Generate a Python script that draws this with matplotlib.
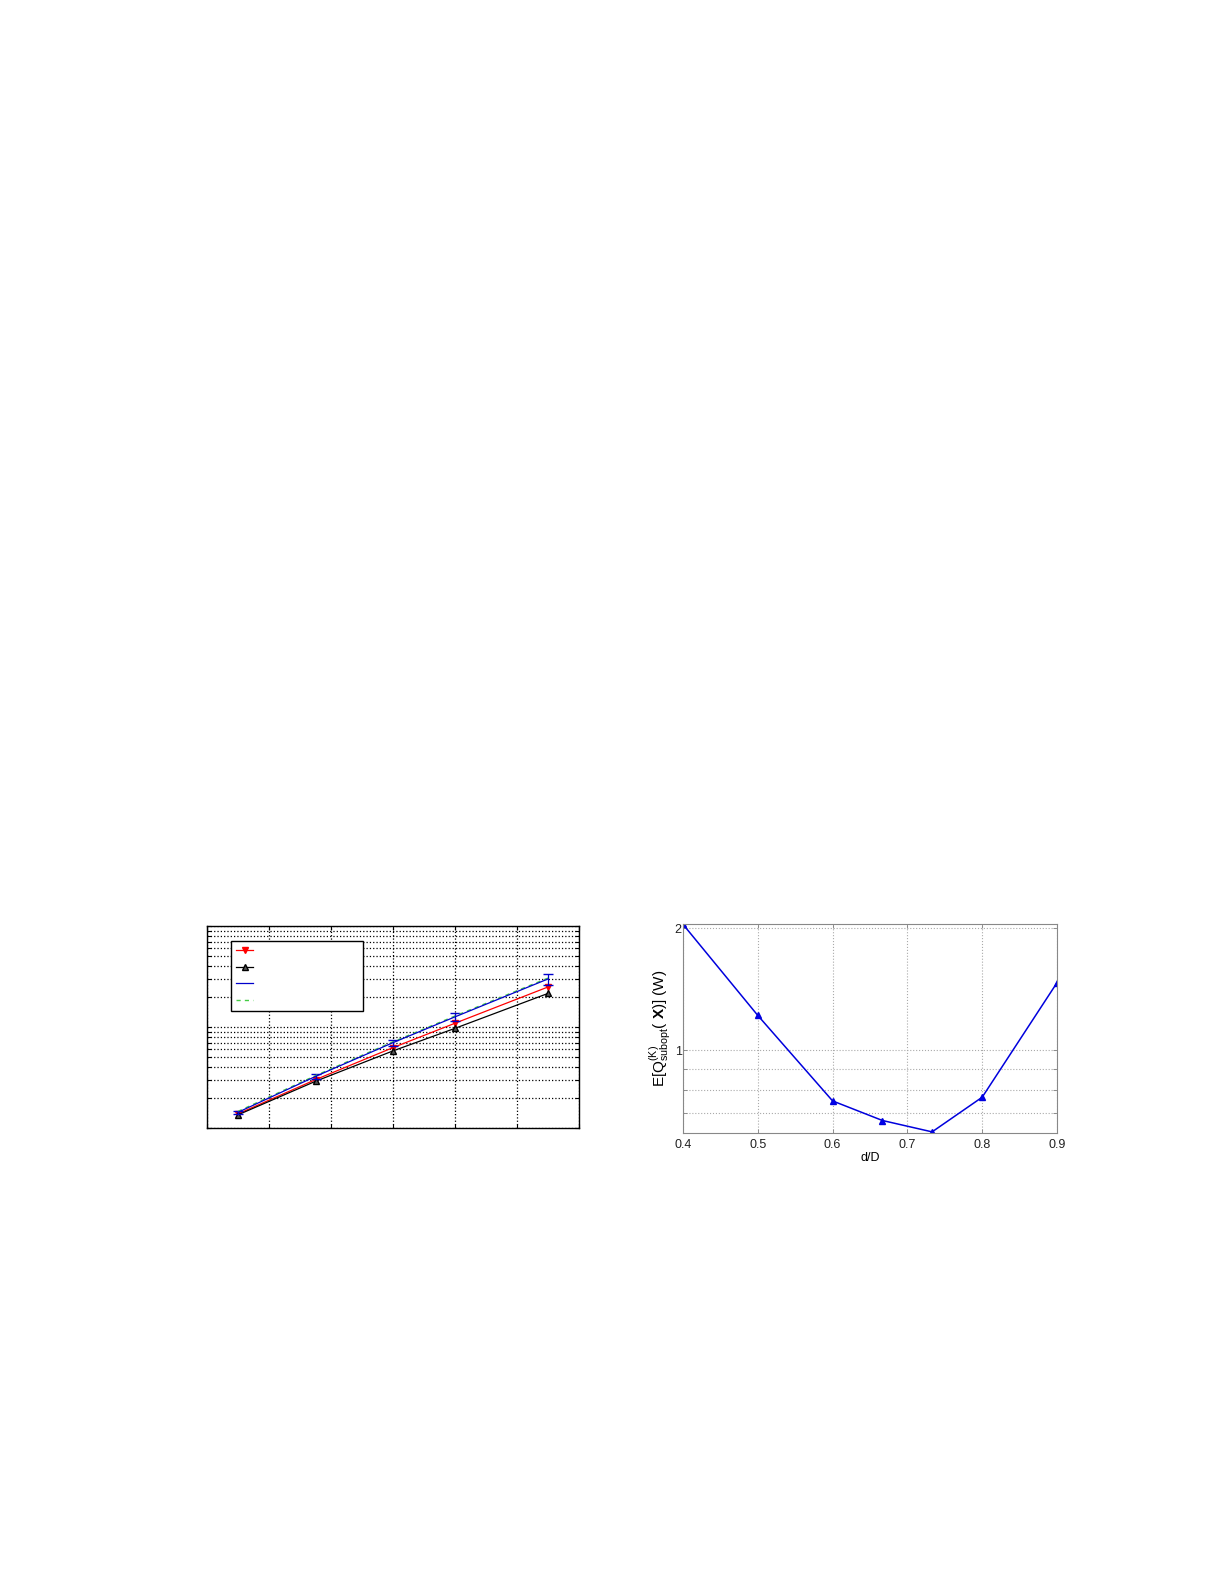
import matplotlib
matplotlib.use('Agg')
import matplotlib.pyplot as plt
from matplotlib.lines import Line2D
from matplotlib.ticker import FixedLocator, NullFormatter, FixedFormatter, LogLocator
import numpy as np

plt.rcParams['font.family'] = ['Liberation Sans', 'DejaVu Sans']
plt.rcParams['mathtext.fontset'] = 'custom'
plt.rcParams['mathtext.rm'] = 'Liberation Sans'
plt.rcParams['mathtext.it'] = 'Liberation Sans:italic'
plt.rcParams['mathtext.bf'] = 'Liberation Sans:bold'

# left panel data (no labels survive in the picture)
x_left = [5, 17.5, 30, 40, 55]
red_vals = [0.138, 0.301, 0.625, 1.09, 2.49]
black_vals = [0.135, 0.290, 0.580, 0.97, 2.15]
blue_vals = [0.143, 0.324, 0.700, 1.26, 2.99]
blue_err = [0.004, 0.016, 0.045, 0.12, 0.37]
green_vals = [0.146, 0.330, 0.713, 1.285, 3.05]

# right panel data
d_ratio = [0.4, 0.5, 0.6, 2 / 3, 0.733, 0.8, 0.9]
q_subopt = [2.046, 1.22, 0.751, 0.672, 0.630, 0.767, 1.469]
right_xticks = [0.4, 0.5, 0.6, 0.7, 0.8, 0.9]

fig = plt.figure(figsize=(12.25, 15.85), dpi=100)

# ---- left chart
ax1 = fig.add_axes([207 / 1225, 1 - 1128 / 1585, 372 / 1225, 202 / 1585])
ax1.set_yscale('log')
red_line, = ax1.plot(x_left, red_vals, color='red', lw=0.9, marker='v', ms=5,
                     mfc='red', mec='red')
black_line, = ax1.plot(x_left, black_vals, color='black', lw=0.9, marker='^', ms=5,
                       mfc='#555555', mec='black')
ax1.errorbar(x_left, blue_vals, yerr=blue_err, color='#0000cc', lw=0.9,
             capsize=3.5, elinewidth=0.9)
green_line, = ax1.plot(x_left, green_vals, color='#44cc44', lw=1.0, ls=(0, (3, 3)))
ax1.set_xlim(0, 60)
ax1.set_ylim(0.1, 10)
ax1.xaxis.set_major_locator(FixedLocator(np.arange(0, 61, 10)))
ax1.yaxis.set_major_locator(LogLocator(base=10))
ax1.yaxis.set_minor_locator(LogLocator(base=10, subs=np.arange(2, 10)))
ax1.xaxis.set_major_formatter(NullFormatter())
ax1.yaxis.set_major_formatter(NullFormatter())
ax1.yaxis.set_minor_formatter(NullFormatter())
ax1.tick_params(which='both', direction='in', top=True, right=True,
                length=3, width=0.8)
ax1.grid(True, which='major', color='black', ls=':', lw=0.9)
ax1.grid(True, which='minor', axis='y', color='black', ls=':', lw=0.9)
for s in ax1.spines.values():
    s.set_linewidth(1.0)

blue_handle = Line2D([], [], color='#0000cc', lw=0.9)
blank = ' ' * 32
leg = ax1.legend([red_line, black_line, blue_handle, green_line],
                 [blank] * 4, loc='upper left', bbox_to_anchor=(0.065, 0.926),
                 borderaxespad=0, fancybox=False, edgecolor='black',
                 framealpha=1, handlelength=1.5, handletextpad=0.5,
                 labelspacing=0.6, borderpad=0.45, fontsize=8,
                 numpoints=1)
leg.get_frame().set_linewidth(1.0)

# ---- right chart
ax2 = fig.add_axes([683 / 1225, 1 - 1133 / 1585, 374 / 1225, 209 / 1585])
ax2.set_yscale('log')
ax2.plot(d_ratio, q_subopt, color='#0000dd', lw=1.1, marker='^', ms=4.5,
         mfc='#0000ee', mec='#0000dd')
ax2.set_xlim(0.4, 0.9)
ax2.set_ylim(0.626, 2.05)
ax2.set_xticks(right_xticks)
ax2.set_xticklabels(['0.4', '0.5', '0.6', '0.7', '0.8', '0.9'])
ax2.yaxis.set_major_locator(FixedLocator([1, 2]))
ax2.yaxis.set_major_formatter(FixedFormatter(['1', '2']))
ax2.yaxis.set_minor_locator(FixedLocator([0.7, 0.8, 0.9]))
ax2.yaxis.set_minor_formatter(NullFormatter())
ax2.tick_params(which='both', direction='in', top=True, right=True,
                length=3, width=0.6, colors='#808080', labelcolor='#222222',
                labelsize=9)
ax2.tick_params(axis='y', pad=1)
ax2.tick_params(axis='x', pad=4)
ax2.grid(True, which='both', color='#aaaaaa', ls=':', lw=0.8)
for s in ax2.spines.values():
    s.set_color('#888888')
    s.set_linewidth(0.8)
ax2.set_xlabel('d/D', fontsize=9, labelpad=1)
ax2.set_ylabel(r'E[$\mathrm{Q}^{(\mathrm{K})}_{\mathrm{subopt}}$( $\mathbf{X}$)] (W)',
               fontsize=11, labelpad=1)

fig.savefig('out.png', dpi=100)
